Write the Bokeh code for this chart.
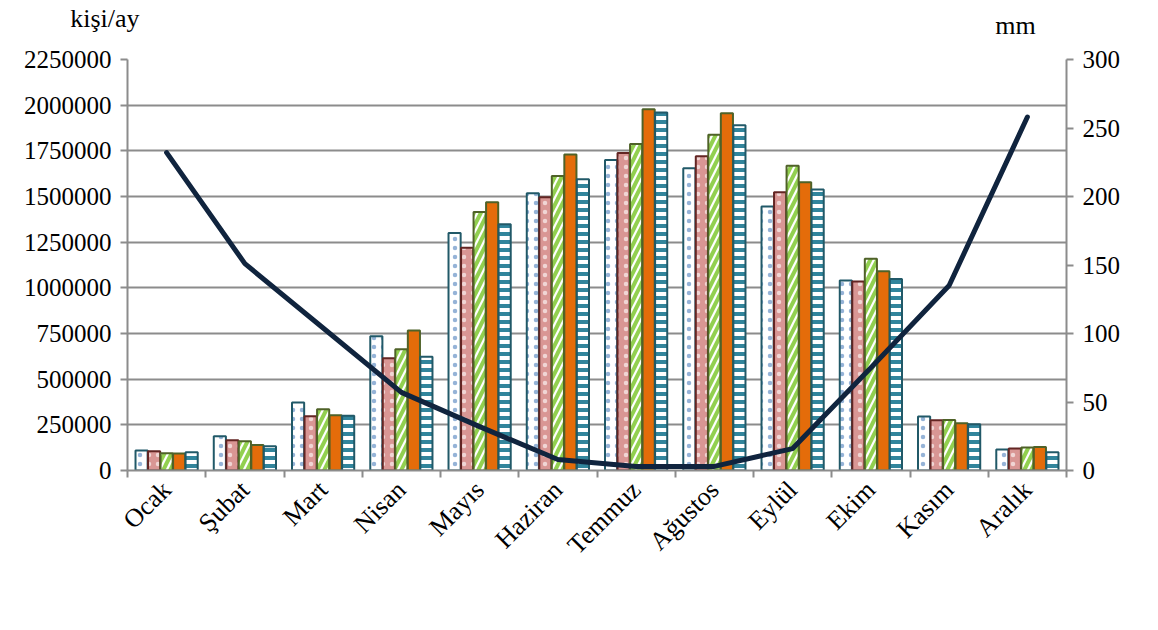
import numpy as np
from bokeh.plotting import figure
from bokeh.layouts import column
from bokeh.models import (Range1d, LinearAxis, FixedTicker, Legend, LegendItem,
                          Label, ColumnDataSource, BasicTickFormatter)
from bokeh.transform import dodge
from bokeh.embed import file_html
from bokeh.resources import INLINE

months = ["Ocak", "Şubat", "Mart", "Nisan", "Mayıs", "Haziran", "Temmuz",
          "Ağustos", "Eylül", "Ekim", "Kasım", "Aralık"]
v2011 = [110000, 187000, 372000, 735000, 1300000, 1518000, 1700000, 1655000, 1445000, 1040000, 296000, 115000]
v2012 = [105000, 165000, 297000, 615000, 1219000, 1496000, 1738000, 1720000, 1523000, 1035000, 275000, 120000]
v2013 = [95000, 160000, 335000, 664000, 1415000, 1612000, 1787000, 1838000, 1668000, 1159000, 277000, 126000]
v2014 = [93000, 140000, 303000, 766000, 1469000, 1730000, 1977000, 1956000, 1578000, 1091000, 259000, 128000]
v2015 = [100000, 133000, 300000, 623000, 1348000, 1595000, 1960000, 1890000, 1538000, 1049000, 253000, 100000]
rain = [232, 151, 104, 57, 32, 8, 3, 3, 16, 75, 135, 258]
left_ticks = [0, 250000, 500000, 750000, 1000000, 1250000, 1500000, 1750000, 2000000, 2250000]
right_ticks = [0, 50, 100, 150, 200, 250, 300]
series_names = ["2011", "2012", "2013", "2014", "2015"]
rain_name = "Aylık Toplam Yağış Miktarı Ortalaması"
left_unit = "kişi/ay"
right_unit = "mm"

FONT = "Liberation Serif"
GRID = "#8c8c8c"
W = 1150
TOP_H, MAIN_H, LEG_H = 45, 533, 44
BL, BR = 127, 84  # frame borders (aligned across the column)

n = len(months)
centers = [i + 0.5 for i in range(n)]
src = ColumnDataSource(dict(xc=centers, y2011=v2011, y2012=v2012, y2013=v2013,
                            y2014=v2014, y2015=v2015, rain=rain))

def bare_fig(h, xr, yr):
    f = figure(width=W, height=h, x_range=xr, y_range=yr,
               output_backend="svg", toolbar_location=None, title=None,
               x_axis_location=None, y_axis_location=None,
               min_border_left=BL, min_border_right=BR, min_border_top=0, min_border_bottom=0)
    f.outline_line_color = None
    f.xgrid.visible = False
    f.ygrid.visible = False
    f.background_fill_color = "white"
    f.border_fill_color = "white"
    return f

# ---- top strip: axis unit labels
top = bare_fig(TOP_H, Range1d(BL, W - BR), Range1d(0, TOP_H))
ky = TOP_H - 18
unit_axis = LinearAxis(ticker=FixedTicker(ticks=[ky]))
unit_axis.major_label_overrides = {ky: left_unit}
unit_axis.axis_line_color = None
unit_axis.major_tick_line_color = None
unit_axis.minor_tick_line_color = None
unit_axis.major_tick_out = 0
unit_axis.major_tick_in = 0
unit_axis.major_label_standoff = -12
unit_axis.major_label_text_font = FONT
unit_axis.major_label_text_font_size = "26px"
unit_axis.major_label_text_color = "black"
top.add_layout(unit_axis, "left")
top.add_layout(Label(x=1015, y=TOP_H - 25, text=right_unit, text_font=FONT, text_font_size="26px",
                     text_align="center", text_baseline="middle", text_color="black"))

# ---- main chart
p = figure(width=W, height=MAIN_H, x_range=Range1d(0, n), y_range=Range1d(0, 2250000),
           output_backend="svg", toolbar_location=None, title=None,
           min_border_left=BL, min_border_right=BR, min_border_top=14, min_border_bottom=108)
p.outline_line_color = None
p.background_fill_color = "white"
p.border_fill_color = "white"
p.xgrid.visible = False

def style_axis(ax):
    ax.major_label_text_font = FONT
    ax.major_label_text_font_size = "25px"
    ax.major_label_text_color = "black"
    ax.axis_line_color = GRID
    ax.axis_line_width = 2
    ax.major_tick_line_color = GRID
    ax.major_tick_line_width = 2
    ax.major_tick_out = 7
    ax.major_tick_in = 0
    ax.minor_tick_line_color = None
    ax.major_label_standoff = 9

ya = p.yaxis[0]
ya.ticker = FixedTicker(ticks=left_ticks)
ya.formatter = BasicTickFormatter(use_scientific=False)
style_axis(ya)
p.ygrid.grid_line_color = GRID
p.ygrid.grid_line_width = 2

p.extra_y_ranges = {"mm": Range1d(0, 300)}
ra = LinearAxis(y_range_name="mm", ticker=FixedTicker(ticks=right_ticks))
style_axis(ra)
p.add_layout(ra, "right")

xa = p.xaxis[0]
xa.ticker = FixedTicker(ticks=centers, minor_ticks=list(range(n + 1)))
xa.major_label_overrides = {c: m for c, m in zip(centers, months)}
style_axis(xa)
xa.major_label_text_font_size = "26px"
xa.major_tick_line_color = None
xa.minor_tick_line_color = GRID
xa.minor_tick_line_width = 2
xa.minor_tick_out = 7
xa.minor_tick_in = 0
xa.major_label_orientation = np.pi / 4
xa.major_label_standoff = 8

bw = 0.155
styles = [
    dict(fill_color="white", line_color="#215968", hatch_pattern="dot", hatch_color="#4f81bd",
         hatch_scale=9, hatch_alpha=0.6),
    dict(fill_color="#d99694", line_color="#632523", hatch_pattern="dot", hatch_color="white",
         hatch_scale=9, hatch_alpha=0.6),
    dict(fill_color="white", line_color="#4f6228", hatch_pattern="right_diagonal_line",
         hatch_color="#92d050", hatch_scale=14, hatch_weight=4),
    dict(fill_color="#e46c0a", line_color="#4f6228"),
    dict(fill_color="white", line_color="#215968", hatch_pattern="horizontal_line",
         hatch_color="#31859c", hatch_scale=8, hatch_weight=4),
]
offsets = [-0.32, -0.16, 0.0, 0.16, 0.32]
cols = ["y2011", "y2012", "y2013", "y2014", "y2015"]
for col, off, style in zip(cols, offsets, styles):
    p.vbar(x=dodge("xc", off), top=col, width=bw, source=src, line_width=2, **style)

line_style = dict(line_color="#10243e", line_width=5)
p.line(x="xc", y="rain", y_range_name="mm", source=src, line_join="round", line_cap="round",
       **line_style)

# ---- legend strip (hidden copies of the series supply the legend swatches)
leg = bare_fig(LEG_H, Range1d(0, n), Range1d(0, 2250000))
items = []
for name, col, off, style in zip(series_names, cols, offsets, styles):
    r = leg.vbar(x=dodge("xc", off), top=col, width=bw, source=src, line_width=2,
                 visible=False, **style)
    items.append(LegendItem(label=name, renderers=[r]))
lr = leg.line(x="xc", y="rain", source=src, line_cap="round", visible=False, **line_style)
items.append(LegendItem(label=rain_name, renderers=[lr]))
legend = Legend(items=items, orientation="horizontal", location="center",
                label_text_font=FONT, label_text_font_size="25px", label_text_color="black",
                glyph_width=50, glyph_height=17, spacing=24, label_standoff=3,
                padding=0, margin=0, border_line_color=None, background_fill_alpha=0,
                inactive_fill_alpha=0)
leg.add_layout(legend, "below")

layout = column(top, p, leg, spacing=0)
open("out.html", "w").write(file_html(layout, INLINE))
